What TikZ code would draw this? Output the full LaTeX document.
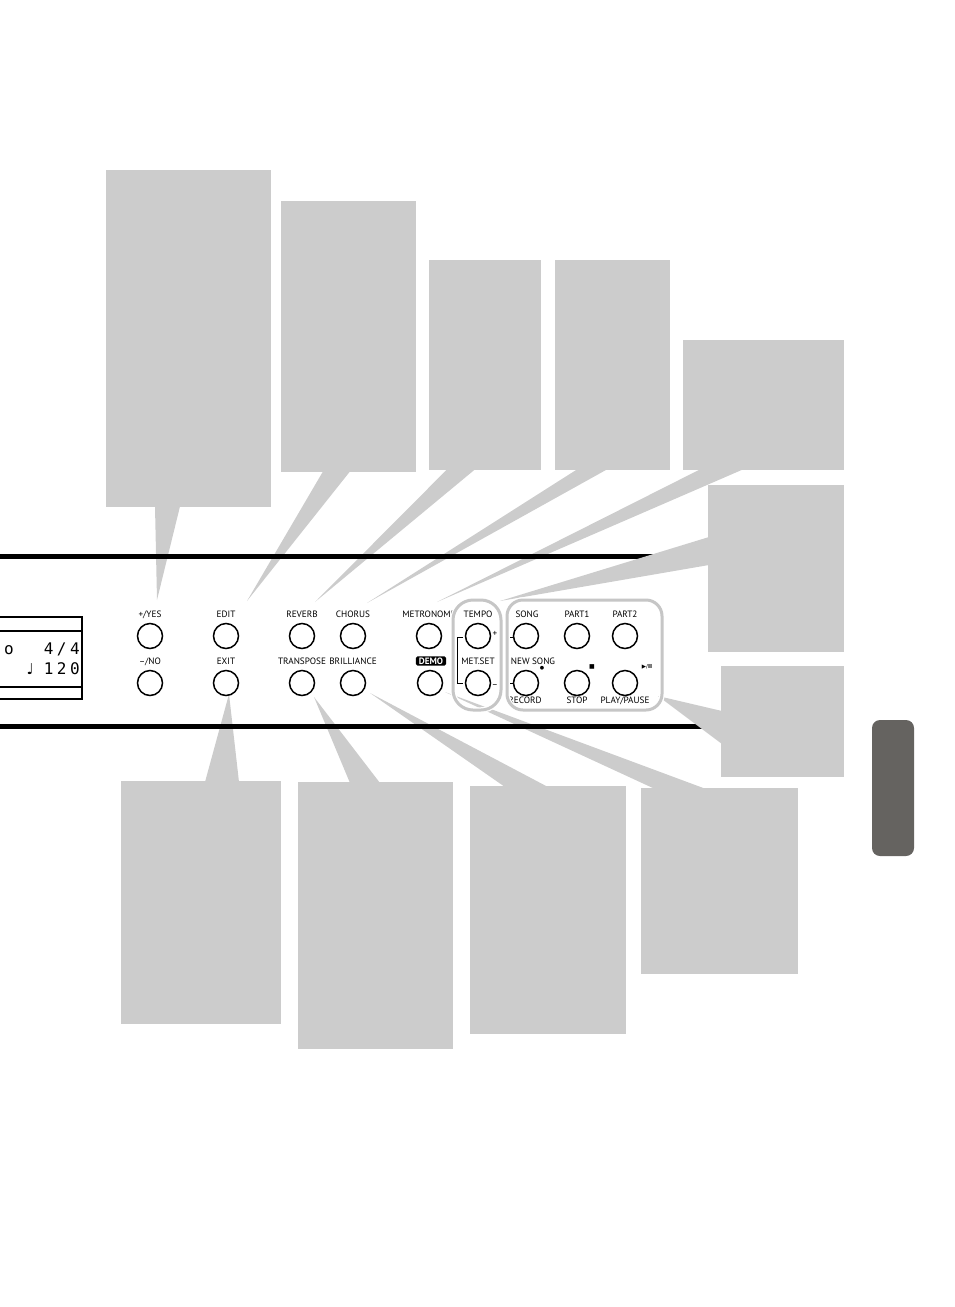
\documentclass[tikz,border=0pt]{standalone}
\usepackage{fontspec}
\usetikzlibrary{calc}
\newfontfamily\panelfont{PT Sans}
\newfontfamily\lcdfont[LetterSpace=22]{DejaVu Sans Mono}
\newfontfamily\symfont{DejaVu Sans}
\newcommand\lblsize{\panelfont\fontsize{9.2}{10}\selectfont}
\definecolor{callgray}{HTML}{CCCCCC}
\definecolor{grpgray}{HTML}{C6C6C6}
\definecolor{tabgray}{HTML}{656360}
\tikzset{
	callout/.style={fill=callgray,inner sep=0,anchor=north west},
	wedge/.style={fill=callgray},
	btn/.style={circle,draw,line width=1.5pt,minimum size=25pt,inner sep=0},
	lbl/.style={font=\lblsize,inner sep=0,anchor=base},
	lcd/.style={font=\lcdfont\fontsize{16}{16}\selectfont,inner sep=0},
	grp/.style={draw=grpgray,line width=3pt,preaction={draw=white,line width=5.5pt}}
}
\begin{document}
\begin{tikzpicture}[x=1pt,y=-1pt]
	\useasboundingbox (0,0) rectangle (954,1307);
	% tips of the callouts
	\coordinate (tipA) at (157,600);
	\coordinate (tipB) at (247,601);
	\coordinate (tipC) at (315,602);
	\coordinate (tipD) at (367,603);
	\coordinate (tipE) at (437,602);
	\coordinate (tipF) at (500,601);
	\coordinate (tipG) at (658,696);
	\coordinate (tipH) at (229,694);
	\coordinate (tipI) at (314,697);
	\coordinate (tipJ) at (370,693);
	\coordinate (tipK) at (445,692);
	% callouts above
	\node[callout,minimum width=165pt,minimum height=337pt] (noteA) at (106,170) {};
	\node[callout,minimum width=135pt,minimum height=271pt] (noteB) at (281,201) {};
	\node[callout,minimum width=112pt,minimum height=210pt] (noteC) at (429,260) {};
	\node[callout,minimum width=115pt,minimum height=210pt] (noteD) at (555,260) {};
	\node[callout,minimum width=161pt,minimum height=130pt] (noteE) at (683,340) {};
	\node[callout,minimum width=136pt,minimum height=167pt] (noteF) at (708,485) {};
	\node[callout,minimum width=123pt,minimum height=111pt] (noteG) at (721,666) {};
	\fill[wedge] ($(noteA.south west)+(49,-1)$) -- (tipA) -- ($(noteA.south west)+(74,-1)$) -- cycle;
	\fill[wedge] ($(noteB.south west)+(42,-1)$) -- (tipB) -- ($(noteB.south west)+(69,-1)$) -- cycle;
	\fill[wedge] ($(noteC.south west)+(18,-1)$) -- (tipC) -- ($(noteC.south west)+(46,-1)$) -- cycle;
	\fill[wedge] ($(noteD.south west)+(22,-1)$) -- (tipD) -- ($(noteD.south west)+(52,-1)$) -- cycle;
	\fill[wedge] ($(noteE.south west)+(17,-1)$) -- (tipE) -- ($(noteE.south west)+(60,-1)$) -- cycle;
	% callouts below
	\node[callout,minimum width=160pt,minimum height=243pt] (noteH) at (121,781) {};
	\node[callout,minimum width=155pt,minimum height=267pt] (noteI) at (298,782) {};
	\node[callout,minimum width=156pt,minimum height=248pt] (noteJ) at (470,786) {};
	\node[callout,minimum width=157pt,minimum height=186pt] (noteK) at (641,788) {};
	\fill[wedge] ($(noteH.north west)+(84,1)$) -- (tipH) -- ($(noteH.north west)+(118,1)$) -- cycle;
	\fill[wedge] ($(noteI.north west)+(52,1)$) -- (tipI) -- ($(noteI.north west)+(82,1)$) -- cycle;
	\fill[wedge] ($(noteJ.north west)+(35,1)$) -- (tipJ) -- ($(noteJ.north west)+(78,1)$) -- cycle;
	\fill[wedge] ($(noteK.north west)+(14,1)$) -- (tipK) -- ($(noteK.north west)+(65,1)$) -- cycle;
	% panel edges
	\draw[line width=5pt] (0,556) -- (708,556);
	\draw[line width=5pt] (0,726) -- (706,726);
	\fill[wedge] ($(noteF.north west)+(1,52)$) -- (tipF) -- ($(noteF.north west)+(1,80)$) -- cycle;
	\fill[wedge] ($(noteG.north west)+(1,45)$) -- (tipG) -- ($(noteG.north west)+(1,78)$) -- cycle;
	% side tab
	\fill[tabgray,rounded corners=8pt] (872,720) rectangle (914,856);
	% display
	\draw[line width=1.2pt] (-2,617) rectangle (82,699);
	\draw[line width=1.2pt] (-2,631) -- (82,631);
	\draw[line width=1.2pt] (-2,687) -- (82,687);
	\node[lcd,anchor=base west] (voice) at (4,654) {o};
	\node[lcd,anchor=base east] (meter) at (80,654) {4/4};
	\node[font=\symfont\fontsize{15}{15}\selectfont,anchor=base east,inner sep=0] (crotchet) at (34,674) {♩};
	\node[lcd,anchor=base east] (bpm) at (80,674) {120};
	% buttons
	\node[btn] (yes) at (150,636) {};
	\node[btn] (no) at (150,683) {};
	\node[btn] (edit) at (226,636) {};
	\node[btn] (exit) at (226,683) {};
	\node[btn] (reverb) at (302,636) {};
	\node[btn] (transpose) at (302,683) {};
	\node[btn] (chorus) at (353,636) {};
	\node[btn] (brilliance) at (353,683) {};
	\node[btn] (metronome) at (429,636) {};
	\node[btn] (demo) at (430,683) {};
	\node[btn] (tempo) at (478,636) {};
	\node[btn] (metset) at (478,683) {};
	\node[btn] (song) at (526,636) {};
	\node[btn] (record) at (526,683) {};
	\node[btn] (part1) at (577,636) {};
	\node[btn] (stop) at (577,683) {};
	\node[btn] (part2) at (625,636) {};
	\node[btn] (play) at (625,683) {};
	% labels
	\node[lbl] (yeslbl) at (150,617) {+/YES};
	\node[lbl] (nolbl) at (150,664) {–/NO};
	\node[lbl] (editlbl) at (226,617) {EDIT};
	\node[lbl] (exitlbl) at (226,664) {EXIT};
	\node[lbl] (reverblbl) at (302,617) {REVERB};
	\node[lbl] (transposelbl) at (302,664) {TRANSPOSE};
	\node[lbl] (choruslbl) at (353,617) {CHORUS};
	\node[lbl] (brilliancelbl) at (353,664) {BRILLIANCE};
	\node[lbl] (metronomelbl) at (429,617) {METRONOME};
	\node[lbl,anchor=center,fill=black,text=white,rounded corners=1.5pt,inner xsep=3pt,inner ysep=1.2pt,font=\lblsize\bfseries] (demolbl) at (431,661) {DEMO};
	\node[lbl] (tempolbl) at (478,617) {TEMPO};
	\node[lbl] (metsetlbl) at (478,664) {MET.SET};
	\node[lbl] (songlbl) at (527,617) {SONG};
	\node[lbl] (newsonglbl) at (533,664) {NEW SONG};
	\node[lbl] (recordlbl) at (525,703) {RECORD};
	\node[lbl] (part1lbl) at (577,617) {PART1};
	\node[lbl] (stoplbl) at (577,703) {STOP};
	\node[lbl] (part2lbl) at (625,617) {PART2};
	\node[lbl] (playlbl) at (625,703) {PLAY/PAUSE};
	% marks beside the buttons
	\draw[line width=1pt] (463,637) -- (457,637) -- (457,683) -- (463,683);
	\node[font=\lblsize,inner sep=0] (plus) at (495,634) {+};
	\node[font=\lblsize,inner sep=0] (minus) at (495,686) {–};
	\draw[line width=1pt] (509,637) -- (513,637);
	\draw[line width=1pt] (509,683) -- (513,683);
	\node[font=\symfont\fontsize{5}{5}\selectfont,inner sep=0] (recmark) at (542,668) {●};
	\node[font=\symfont\fontsize{6}{6}\selectfont,inner sep=0] (stopmark) at (592,667) {■};
	\node[font=\symfont\fontsize{5.5}{6}\selectfont,inner sep=0] (playmark) at (647,667) {▶/\textbf{II}};
	% button groups
	\draw[grp,rounded corners=20pt] (453,600) rectangle (501,710);
	\draw[grp,rounded corners=16pt] (507,600) rectangle (662,710);
\end{tikzpicture}
\end{document}
